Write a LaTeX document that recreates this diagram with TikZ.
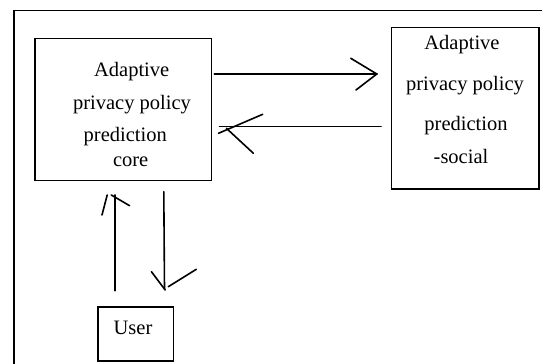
\documentclass[tikz,border=0pt]{standalone}
\usepackage{fontspec}
\setmainfont{Liberation Serif}
\begin{document}
\begin{tikzpicture}[x=1pt,y=-1pt,
  boxstyle/.style={draw,line width=1.6pt,inner sep=0pt},
  txt/.style={anchor=base,inner sep=0pt,font=\fontsize{20.5}{24}\selectfont},
  wire/.style={line width=1.6pt,line cap=round}]
\useasboundingbox (0,0) rectangle (542,364);
% outer frame (right and bottom edges lie outside the picture)
\draw[line width=1.8pt] (542,10.5) -- (14,10.5) -- (14,364);
% boxes
\node[boxstyle,minimum width=176.5pt,minimum height=142pt] (core) at (123.25,109.3) {};
\node[boxstyle,minimum width=147.4pt,minimum height=161.4pt] (social) at (465.3,108) {};
\node[boxstyle,minimum width=75.5pt,minimum height=54pt] (user) at (135.75,333.7) {};
% texts
\node[txt] (c1) at (131.7,76) {Adaptive};
\node[txt] (c2) at (132,110) {privacy policy};
\node[txt] (c3) at (125.3,141.7) {prediction};
\node[txt] (c4) at (130.7,166.7) {core};
\node[txt] (s1) at (462,49.3) {Adaptive};
\node[txt] (s2) at (465,90.7) {privacy policy};
\node[txt] (s3) at (466,130) {prediction};
\node[txt] (s4) at (461,163.3) {-social};
\node[txt] (u1) at (133,334) {User};
% arrow end points
\coordinate (a1s) at (214.3,74);
\coordinate (a1e) at (376.8,74);
\coordinate (a2s) at (381,126.5);
\coordinate (a2e) at (219.5,126.5);
\coordinate (a3s) at (114.8,290.7);
\coordinate (a3e) at (114.8,195);
\coordinate (a4s) at (163.8,191.7);
\coordinate (a4e) at (164.5,289);
% shafts
\draw[wire] (a1s) -- (a1e);
\draw[wire] (a2s) -- (a2e);
\draw[wire] (a3s) -- (a3e);
\draw[wire] (a4s) -- (a4e);
% hand-drawn heads
\draw[wire] (350.8,58.3) -- (a1e) -- (356,90);
\draw[wire] (218.5,133.3) -- (262.7,114.3);
\draw[wire] (226.4,128.3) -- (253.4,153.3);
\draw[wire] (102,215) -- (107.2,195);
\draw[wire] (111.3,195) -- (129.6,205.7);
\draw[wire] (151.4,271.7) -- (165.2,290);
\draw[wire] (168.3,286.7) -- (196.3,269.3);
\end{tikzpicture}
\end{document}
